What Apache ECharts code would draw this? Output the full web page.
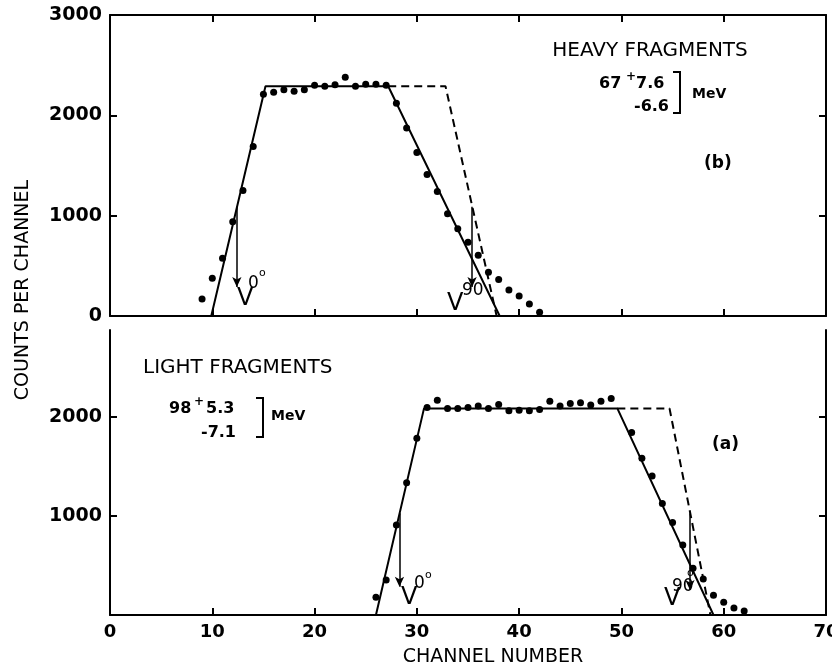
<!DOCTYPE html>
<html>
<head>
<meta charset="utf-8">
<script src="https://cdn.jsdelivr.net/npm/echarts@6/dist/echarts.min.js"></script>
<style>
  html, body { margin: 0; padding: 0; background: #fff; }
  #chart { width: 832px; height: 671px; }
</style>
</head>
<body>
<div id="chart"></div>
<script>
// (b) heavy fragments
var heavyCh = [9, 10, 11, 12, 13, 14, 15, 16, 17, 18, 19, 20, 21, 22, 23, 24, 25, 26, 27,
  28, 29, 30, 31, 32, 33, 34, 35, 36, 37, 38, 39, 40, 41, 42]
var heavyCounts = [170, 377, 575, 940, 1250, 1690, 2210, 2230, 2255, 2240, 2255, 2300, 2290, 2305, 2380, 2290, 2310, 2310, 2300,
  2120, 1875, 1630, 1410, 1240, 1020, 870, 735, 605, 435, 365, 260, 200, 120, 37]
var heavyFitX = [9.9, 15.2, 27.2, 38.1]
var heavyFitY = [0, 2290, 2290, 0]
var heavyDashX = [27.2, 32.8, 37.8]
var heavyDashY = [2290, 2290, 0]
var heavyArrows = [[12.4, 1090, 290], [35.4, 1090, 290]]   // channel, from, to

// (a) light fragments
var lightCh = [26, 27, 28, 29, 30, 31, 32, 33, 34, 35, 36, 37, 38, 39, 40, 41, 42, 43, 44, 45, 46, 47, 48, 49,
  51, 52, 53, 54, 55, 56, 57, 58, 59, 60, 61, 62]
var lightCounts = [179, 353, 909, 1336, 1785, 2098, 2170, 2088, 2088, 2098, 2111, 2088, 2128, 2064, 2070, 2064, 2077, 2160, 2111, 2138, 2145, 2121, 2160, 2188,
  1845, 1583, 1404, 1128, 936, 707, 472, 364, 200, 130, 70, 40]
var lightFitX = [26.0, 30.7, 49.6, 59.0]
var lightFitY = [0, 2088, 2088, 0]
var lightDashX = [49.6, 54.7, 58.7]
var lightDashY = [2088, 2088, 0]
var lightArrows = [[28.3, 1027, 286], [56.7, 1027, 253]]

var xTicks = [0, 70, 10]       // min, max, step
var yTopTicks = [0, 3000, 1000]
var yBotTicks = [1000, 2000]
var yBotMax = 2880

function zip(xs, ys) {
  return xs.map(function (x, i) { return [x, ys[i]] })
}

var FONT = 'DejaVu Sans'
var black = '#000'

function arrowLines(list) {
  return list.map(function (a) {
    return [{ coord: [a[0], a[1]] }, { coord: [a[0], a[2]] }]
  })
}

function plain(v) { return String(v) }

function xAxis(grid, pos, labels) {
  return {
    type: 'value', gridIndex: grid, position: pos,
    min: xTicks[0], max: xTicks[1], interval: xTicks[2],
    axisLine: { onZero: false, lineStyle: { color: black, width: 2 } },
    axisTick: { inside: true, length: 7, lineStyle: { color: black, width: 2 } },
    axisLabel: { show: labels, formatter: plain, color: black, fontFamily: FONT, fontWeight: 'bold', fontSize: 18, margin: 8 },
    splitLine: { show: false }
  }
}

function yAxis(grid, pos, max, labels) {
  var ax = {
    type: 'value', gridIndex: grid, position: pos,
    min: 0, max: max,
    axisLine: { show: true, onZero: false, lineStyle: { color: black, width: 2 } },
    axisTick: { inside: true, length: 7, lineStyle: { color: black, width: 2 } },
    axisLabel: { show: labels, formatter: plain, color: black, fontFamily: FONT, fontWeight: 'bold', fontSize: 19, margin: 8 },
    splitLine: { show: false }
  }
  if (grid === 0) {
    ax.interval = yTopTicks[2]
  } else {
    ax.axisTick.customValues = yBotTicks
    ax.axisLabel.customValues = yBotTicks
  }
  return ax
}

function txt(x, y, s, size, opt) {
  opt = opt || {}
  return {
    type: 'text', x: x, y: y, rotation: opt.rot || 0,
    style: {
      text: s, fill: black,
      font: (opt.bold ? 'bold ' : '') + size + 'px "' + FONT + '"',
      textAlign: opt.align || 'left', textVerticalAlign: opt.valign || 'top'
    }
  }
}

var chart = echarts.init(document.getElementById('chart'))

chart.setOption({
  animation: false,
  grid: [
    { left: 110, top: 15, width: 716, height: 301, outerBoundsMode: 'none' },
    { left: 110, top: 330, width: 716, height: 285, outerBoundsMode: 'none' }
  ],
  xAxis: [
    xAxis(0, 'bottom', false),
    xAxis(0, 'top', false),
    xAxis(1, 'bottom', true)
  ],
  yAxis: [
    yAxis(0, 'left', yTopTicks[1], true),
    yAxis(0, 'right', yTopTicks[1], false),
    yAxis(1, 'left', yBotMax, true),
    yAxis(1, 'right', yBotMax, false)
  ],
  series: [
    {
      type: 'scatter', xAxisIndex: 0, yAxisIndex: 0,
      data: zip(heavyCh, heavyCounts),
      symbolSize: 7, itemStyle: { color: black, opacity: 1 }
    },
    {
      type: 'line', xAxisIndex: 0, yAxisIndex: 0,
      data: zip(heavyFitX, heavyFitY),
      symbol: 'none', lineStyle: { color: black, width: 2 },
      markLine: {
        silent: true, symbol: ['none', 'arrow'], symbolSize: [7, 10],
        label: { show: false },
        lineStyle: { color: black, width: 1.5, type: 'solid' },
        data: arrowLines(heavyArrows)
      }
    },
    {
      type: 'line', xAxisIndex: 0, yAxisIndex: 0,
      data: zip(heavyDashX, heavyDashY),
      symbol: 'none', lineStyle: { color: black, width: 2, type: [8, 5] }
    },
    {
      type: 'scatter', xAxisIndex: 2, yAxisIndex: 2,
      data: zip(lightCh, lightCounts),
      symbolSize: 7, itemStyle: { color: black, opacity: 1 }
    },
    {
      type: 'line', xAxisIndex: 2, yAxisIndex: 2,
      data: zip(lightFitX, lightFitY),
      symbol: 'none', lineStyle: { color: black, width: 2 },
      markLine: {
        silent: true, symbol: ['none', 'arrow'], symbolSize: [7, 10],
        label: { show: false },
        lineStyle: { color: black, width: 1.5, type: 'solid' },
        data: arrowLines(lightArrows)
      }
    },
    {
      type: 'line', xAxisIndex: 2, yAxisIndex: 2,
      data: zip(lightDashX, lightDashY),
      symbol: 'none', lineStyle: { color: black, width: 2, type: [8, 5] }
    }
  ],
  graphic: [
    txt(23, 290, 'COUNTS PER CHANNEL', 19, { rot: Math.PI / 2, align: 'center', valign: 'middle' }),
    txt(493, 648, 'CHANNEL NUMBER', 19, { align: 'center' }),

    txt(650, 41, 'HEAVY FRAGMENTS', 20, { align: 'center' }),
    txt(599, 76, '67', 16, { bold: true }),
    txt(626, 71, '+', 12, { bold: true }),
    txt(636, 76, '7.6', 16, { bold: true }),
    txt(634, 99, '-6.6', 16, { bold: true }),
    { type: 'polyline', shape: { points: [[673, 72], [680, 72], [680, 113], [673, 113]] }, style: { stroke: black, lineWidth: 2, fill: null } },
    txt(692, 87, 'MeV', 14, { bold: true }),
    txt(704, 155, '(b)', 17, { bold: true }),

    txt(143, 358, 'LIGHT FRAGMENTS', 20),
    txt(169, 401, '98', 16, { bold: true }),
    txt(194, 396, '+', 12, { bold: true }),
    txt(206, 401, '5.3', 16, { bold: true }),
    txt(201, 425, '-7.1', 16, { bold: true }),
    { type: 'polyline', shape: { points: [[256, 398], [263, 398], [263, 437], [256, 437]] }, style: { stroke: black, lineWidth: 2, fill: null } },
    txt(271, 409, 'MeV', 14, { bold: true }),
    txt(712, 436, '(a)', 17, { bold: true }),

    // V labels
    txt(237, 287, 'V', 24),
    txt(248, 275, '0', 17),
    txt(259, 268, 'o', 11),
    txt(447, 292, 'V', 24),
    txt(462, 282, '90', 17),
    txt(401, 586, 'V', 24),
    txt(414, 575, '0', 17),
    txt(425, 570, 'o', 11),
    txt(664, 587, 'V', 24),
    txt(672, 578, '90', 17),
    txt(687, 568, 'o', 11)
  ]
})
</script>
</body>
</html>
